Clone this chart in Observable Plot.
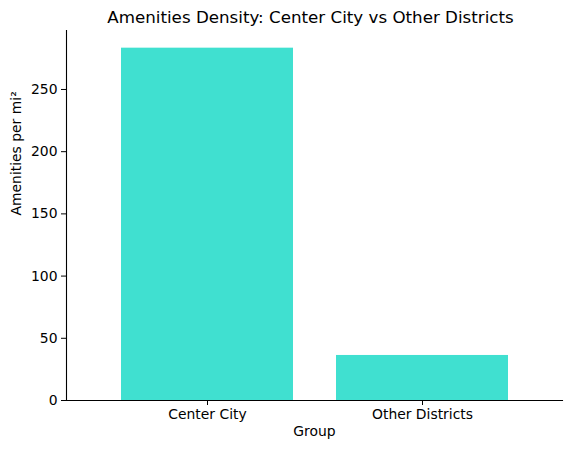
<!DOCTYPE html>
<html>
<head>
<meta charset="utf-8">
<script src="https://cdn.jsdelivr.net/npm/d3@7"></script>
<script src="https://cdn.jsdelivr.net/npm/@observablehq/plot@0.6"></script>
<style>
  body { margin: 0; background: #fff; font-family: "DejaVu Sans", sans-serif; }
  #title { width: 571px; height: 24px; text-align: center; font-size: 16.7px; line-height: 16px; padding-top: 9px; box-sizing: border-box; color: #000; padding-left: 50px; }
</style>
</head>
<body>
<div id="title">Amenities Density: Center City vs Other Districts</div>
<div id="chart"></div>
<script>
const groups = ["Center City", "Other Districts"];
const density = [283.2, 36.2];
const yTicks = [0, 50, 100, 150, 200, 250];
const xLabel = "Group";
const yLabel = "Amenities per mi²";
const barColor = "#40E0D0";

const data = groups.map((g, i) => ({group: g, value: density[i]}));

const chart = Plot.plot({
  width: 571,
  height: 429,
  marginLeft: 66,
  marginRight: 9,
  marginTop: 6,
  marginBottom: 53,
  style: {fontFamily: "DejaVu Sans, sans-serif", fontSize: "13.9px", color: "#000", background: "#fff"},
  x: {domain: groups, paddingInner: 0.2, paddingOuter: 0.25, label: null},
  y: {domain: [0, 297.4], label: null},
  marks: [
    Plot.barY(data, {x: "group", y: "value", fill: barColor}),
    Plot.axisY({ticks: yTicks, tickSize: 5, tickPadding: 4, label: null}),
    Plot.axisX({tickSize: 5, tickPadding: 4, label: null}),
    Plot.frame({anchor: "left", stroke: "#000", strokeWidth: 1.1}),
    Plot.frame({anchor: "bottom", stroke: "#000", strokeWidth: 1.1}),
    Plot.text([xLabel], {frameAnchor: "bottom", dy: 35, fontSize: 13.9, fill: "#000"}),
    Plot.text([yLabel], {frameAnchor: "left", dx: -50, rotate: -90, fontSize: 13.9, fill: "#000"})
  ]
});
document.getElementById("chart").appendChild(chart);
</script>
</body>
</html>
